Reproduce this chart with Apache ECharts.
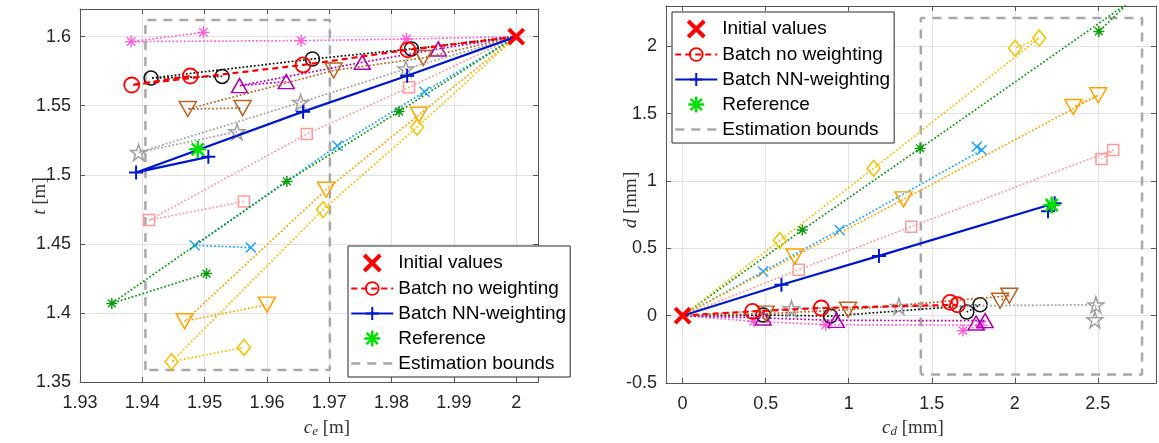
<!DOCTYPE html>
<html><head><meta charset="utf-8">
<script src="https://cdn.jsdelivr.net/npm/echarts@6/dist/echarts.min.js"></script>
<style>html,body{margin:0;padding:0;background:#fff}#c{width:1159px;height:443px}</style>
</head><body><div id="c"></div>
<script>
// ---------- DATA (left: c_e [m] vs t [m]; right: c_d [mm] vs d [mm]) ----------
const initL = [2.0, 1.6];
const initR = [0.0, 0.0];
const refL = [1.9489, 1.5184];
const refR = [2.222, 0.822];
const boundsCe = [1.9405, 1.9701];
const boundsT  = [1.3587, 1.6121];
const boundsCd = [1.434, 2.766];
const boundsD  = [-0.437, 2.21];

const pinkAstL  = [[1.9824,1.5983],[1.9655,1.5971],[1.9382,1.5964],[1.9498,1.6031]];
const blackCirL = [[1.9832,1.5911],[1.9673,1.5838],[1.9414,1.5700],[1.9528,1.5712]];
const redCirL   = [[1.9826,1.5904],[1.9658,1.5795],[1.9383,1.5650],[1.9477,1.5715]];
const magTriL   = [[1.9875,1.5911],[1.9753,1.5814],[1.9556,1.5645],[1.9631,1.5674]];
const brownTriL = [[1.9851,1.5846],[1.9707,1.5755],[1.9473,1.5476],[1.9561,1.5483]];
const grayStarL = [[1.9823,1.5766],[1.9654,1.5524],[1.9394,1.5162],[1.9552,1.5312]];
const bluePlusL = [[1.9825,1.5717],[1.9658,1.5457],[1.9390,1.5017],[1.9506,1.5130]];
const salmonSqL = [[1.9828,1.5633],[1.9664,1.5295],[1.9411,1.4672],[1.9563,1.4807]];
const cyanXL    = [[1.9853,1.5601],[1.9713,1.5210],[1.9484,1.4490],[1.9574,1.4473]];
const dGreenL   = [[1.9812,1.5458],[1.9632,1.4952],[1.9351,1.4069],[1.9503,1.4285]];
const orangeTrL = [[1.9844,1.5434],[1.9695,1.4892],[1.9468,1.3940],[1.9600,1.4060]];
const yellowDiL = [[1.9841,1.5345],[1.9690,1.4748],[1.9447,1.3647],[1.9563,1.3750]];

const pinkAstR  = [[0.428,-0.042],[0.861,-0.067],[1.800,-0.070],[1.687,-0.111]];
const blackCirR = [[0.485,0.005],[0.890,-0.003],[1.791,0.081],[1.711,0.027]];
const redCirR   = [[0.421,0.032],[0.835,0.057],[1.655,0.081],[1.611,0.099]];
const magTriR   = [[0.485,-0.017],[0.925,-0.035],[1.821,-0.037],[1.767,-0.054]];
const brownTriR = [[0.500,0.015],[0.996,0.044],[1.967,0.148],[1.911,0.111]];
const grayStarR = [[0.655,0.052],[1.302,0.069],[2.488,0.081],[2.482,-0.030]];
const bluePlusR = [[0.595,0.230],[1.182,0.444],[2.240,0.835],[2.200,0.775]];
const salmonSqR = [[0.699,0.341],[1.376,0.661],[2.592,1.230],[2.522,1.163]];
const cyanXR    = [[0.485,0.328],[0.945,0.637],[1.801,1.230],[1.771,1.254]];
const dGreenR   = [[0.721,0.637],[1.430,1.242],[2.690,2.330],[2.506,2.111]];
const orangeTrR = [[0.675,0.439],[1.330,0.864],[2.502,1.637],[2.352,1.550]];
const yellowDiR = [[0.585,0.558],[1.150,1.094],[2.147,2.062],[2.001,1.987]];

const xTicksL = {min:1.93, max:2.0035, step:0.01};
const yTicksL = {min:1.35, max:1.62, step:0.05};
const xTicksR = {min:-0.1, max:2.85};
const xTickValsR = [0, 0.5, 1, 1.5, 2, 2.5];
const yTicksR = {min:-0.5, max:2.3, step:0.5};

// ---------- STYLES ----------
const P_AST  = 'path://M0,-10L0,10M-10,0L10,0M-7.07,-7.07L7.07,7.07M-7.07,7.07L7.07,-7.07';
const P_PLUS = 'path://M0,-10L0,10M-10,0L10,0';
const P_X    = 'path://M-10,-10L10,10M-10,10L10,-10';
const P_STAR = 'path://M0,-10L2.245,-3.09L9.511,-3.09L3.633,1.18L5.878,8.09L0,3.82L-5.878,8.09L-3.633,1.18L-9.511,-3.09L-2.245,-3.09Z';
const P_VTRI = 'path://M-10,-8L10,-8L0,9Z';
const P_TRI  = 'path://M0,-9L10,8L-10,8Z';
const P_BOX  = 'path://M0,0L10,0L10,10L0,10Z';
const DOT = [1.8, 2];
const NONE = 'rgba(0,0,0,0)';

const cases = [
  {n:'c1', L:pinkAstL,  R:pinkAstR,  c:'#FF5CD9', s:P_AST,   sz:12, fill:null, bw:1.4, lw:1.7, dash:DOT},
  {n:'c2', L:blackCirL, R:blackCirR, c:'#111111', s:'circle', sz:14, fill:NONE, bw:1.5, lw:1.7, dash:DOT},
  {n:'c4', L:magTriL,   R:magTriR,   c:'#B000B8', s:P_TRI,   sz:[16,14], fill:NONE, bw:1.5, lw:1.7, dash:DOT},
  {n:'c5', L:brownTriL, R:brownTriR, c:'#B8621E', s:P_VTRI,  sz:[17,15], fill:NONE, bw:1.5, lw:1.7, dash:DOT},
  {n:'c6', L:grayStarL, R:grayStarR, c:'#A0A0A0', s:P_STAR,  sz:16, fill:NONE, bw:1.5, lw:1.7, dash:DOT},
  {n:'c8', L:salmonSqL, R:salmonSqR, c:'#FF9A9A', s:'rect',  sz:11, fill:NONE, bw:1.5, lw:1.7, dash:DOT},
  {n:'c9', L:cyanXL,    R:cyanXR,    c:'#1CA6F5', s:P_X,     sz:10, fill:null, bw:1.5, lw:1.7, dash:DOT},
  {n:'c10',L:dGreenL,   R:dGreenR,   c:'#0E9A0E', s:P_AST,   sz:11, fill:null, bw:1.5, lw:1.7, dash:DOT},
  {n:'c11',L:orangeTrL, R:orangeTrR, c:'#FFA200', s:P_VTRI,  sz:[17,15], fill:NONE, bw:1.5, lw:1.7, dash:DOT},
  {n:'c12',L:yellowDiL, R:yellowDiR, c:'#F5C200', s:'diamond', sz:[13,16], fill:NONE, bw:1.5, lw:1.7, dash:DOT},
  {n:'Batch no weighting', L:redCirL, R:redCirR, c:'#FF0000', s:'circle', sz:15, fill:NONE, bw:1.8, lw:2.2, dash:[6,4]},
  {n:'Batch NN-weighting', L:bluePlusL, R:bluePlusR, c:'#0018CC', s:P_PLUS, sz:14, fill:null, bw:2, lw:2.2, dash:'solid'}
];

function lineSeries(cs, pts, init, xi, yi, z) {
  return {
    type:'line', name:cs.n, xAxisIndex:xi, yAxisIndex:yi, z:z,
    data:[{value:init, symbol:'none'}].concat(pts.map(p => ({value:p}))),
    symbol:cs.s, symbolSize:cs.sz, showAllSymbol:true, clip:true,
    lineStyle:{color:cs.c, width:cs.lw, type:cs.dash, cap:'butt'},
    itemStyle:{color:cs.fill || cs.c, borderColor:cs.c, borderWidth:cs.bw},
    silent:true, animation:false
  };
}
function boundsSeries(xs, ys, xi, yi) {
  return {
    type:'line', name:'Estimation bounds', xAxisIndex:xi, yAxisIndex:yi, z:1,
    data:[[xs[0],ys[0]],[xs[0],ys[1]],[xs[1],ys[1]],[xs[1],ys[0]],[xs[0],ys[0]]],
    symbol:P_BOX, symbolSize:4, showSymbol:false, lineStyle:{color:'#A8A8A8', width:2.5, type:[9,7]},
    itemStyle:{color:NONE, borderColor:NONE, borderWidth:0, opacity:0}, silent:true, animation:false
  };
}
function pointSeries(name, pt, sym, size, color, bw, xi, yi, z) {
  return {type:'scatter', name, xAxisIndex:xi, yAxisIndex:yi, z:z, data:[pt],
    symbol:sym, symbolSize:size, itemStyle:{color:color, borderColor:color, borderWidth:bw, opacity:1},
    silent:true, animation:false};
}

const series = [];
series.push(boundsSeries(boundsCe, boundsT, 0, 0));
series.push(boundsSeries(boundsCd, boundsD, 2, 2));
cases.forEach((cs, i) => {
  series.push(lineSeries(cs, cs.L, initL, 0, 0, 2 + i * 0.01));
  series.push(lineSeries(cs, cs.R, initR, 2, 2, 2 + i * 0.01));
});
series.push(pointSeries('Reference', refL, P_AST, 17, '#00E000', 2.5, 0, 0, 3));
series.push(pointSeries('Reference', refR, P_AST, 17, '#00E000', 2.5, 2, 2, 3));
series.push(pointSeries('Initial values', initL, P_X, 15, '#FF0000', 4, 0, 0, 3.1));
series.push(pointSeries('Initial values', initR, P_X, 15, '#FF0000', 4, 2, 2, 3.1));

const AX = '#555555', GRID = '#E2E2E2', TXT = '#262626';
function xAxisDef(g, t, pos, custom) {
  const main = pos === 'bottom';
  const ax = {type:'value', gridIndex:g, position:pos, min:t.min, max:t.max,
    axisLine:{show:true, onZero:false, lineStyle:{color:AX, width:1}},
    axisTick:{show:true, inside:true, length:5, lineStyle:{color:AX}},
    axisLabel:{show:main, margin:12, fontSize:18, color:TXT, fontFamily:'Liberation Sans', showMinLabel:!custom, showMaxLabel:false},
    splitLine:{show:main, lineStyle:{color:GRID, width:1}}};
  if (custom) {
    ax.axisTick.customValues = custom;
    ax.axisLabel.customValues = custom;
    ax.axisLabel.showMinLabel = true;
    ax.axisLabel.showMaxLabel = true;
  } else {
    ax.interval = t.step;
  }
  return ax;
}
function yAxisDef(g, t, pos) {
  const main = pos === 'left';
  return {type:'value', gridIndex:g, position:pos, min:t.min, max:t.max, interval:t.step,
    axisLine:{show:true, onZero:false, lineStyle:{color:AX, width:1}},
    axisTick:{show:true, inside:true, length:5, lineStyle:{color:AX}},
    axisLabel:{show:main, margin:9, fontSize:18, color:TXT, fontFamily:'Liberation Sans', showMinLabel:true, showMaxLabel:false},
    splitLine:{show:main, lineStyle:{color:GRID, width:1}}};
}

const legendData = [
  {name:'Initial values', itemStyle:{borderWidth:4}},
  {name:'Batch no weighting', itemStyle:{borderWidth:1.8}, lineStyle:{width:2.2}},
  {name:'Batch NN-weighting', itemStyle:{borderWidth:2}, lineStyle:{width:2.2}},
  {name:'Reference', itemStyle:{borderWidth:2.5}},
  {name:'Estimation bounds', itemStyle:{color:NONE, borderColor:NONE, borderWidth:0, opacity:0}, lineStyle:{width:2.5}}
];
function legendDef(left, top) {
  return {left, top, orient:'vertical', data:legendData, itemWidth:42, itemHeight:16, itemGap:6,
    padding:[7,4,4,2], backgroundColor:'#fff', borderColor:'#262626', borderWidth:1,
    textStyle:{fontSize:19, color:'#000', fontFamily:'Liberation Sans'}, selectedMode:false, z:10};
}

const serif = 'Liberation Serif';
const rich = {
  i:{fontFamily:serif, fontStyle:'italic', fontSize:19, fill:'#333', color:'#333'},
  s:{fontFamily:serif, fontStyle:'italic', fontSize:13, fill:'#333', color:'#333', padding:[8,0,0,0]},
  r:{fontFamily:serif, fontSize:19, fill:'#333', color:'#333'}
};
function title(x, y, text, rot) {
  return {type:'text', x, y, rotation:rot || 0, z:20,
    style:{text, rich, align:'center', verticalAlign:'middle', textAlign:'center', textVerticalAlign:'middle'}};
}

const option = {
  animation:false,
  backgroundColor:'#fff',
  grid:[{left:80, top:9, width:458, height:373}, {left:666, top:6, width:490, height:377}],
  xAxis:[xAxisDef(0, xTicksL, 'bottom'), xAxisDef(0, xTicksL, 'top'), xAxisDef(1, xTicksR, 'bottom', xTickValsR), xAxisDef(1, xTicksR, 'top', xTickValsR)],
  yAxis:[yAxisDef(0, yTicksL, 'left'), yAxisDef(0, yTicksL, 'right'), yAxisDef(1, yTicksR, 'left'), yAxisDef(1, yTicksR, 'right')],
  legend:[legendDef(348, 246), legendDef(672, 12)],
  series,
  graphic:[
    title(327, 428, '{i|c}{s|e}{r| [m]}'),
    title(913, 428, '{i|c}{s|d}{r| [mm]}'),
    title(40, 196, '{i|t}{r| [m]}', Math.PI/2),
    title(631, 200, '{i|d}{r| [mm]}', Math.PI/2)
  ]
};
const chart = echarts.init(document.getElementById('c'), null, {renderer:'canvas'});
chart.setOption(option);
</script></body></html>
